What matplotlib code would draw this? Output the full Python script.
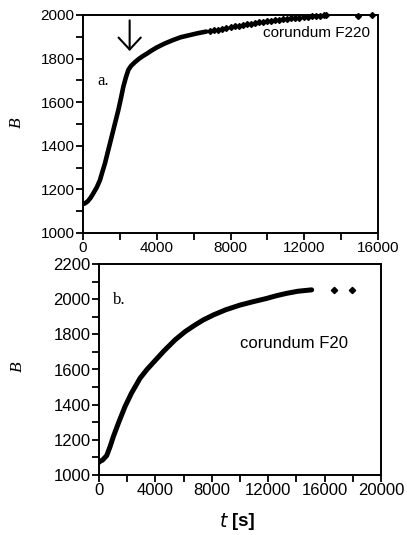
import matplotlib
matplotlib.use("Agg")
import matplotlib.pyplot as plt
from matplotlib.ticker import MultipleLocator

# panel a. corundum F220 (dense part drawn as thick trace, tail as diamonds)
t_a = [0, 50, 108, 250, 400, 560, 750, 922, 1050, 1193, 1400, 1555, 1750,
       1917, 2050, 2188, 2330, 2459, 2600, 2820, 3050, 3254, 3453, 3700,
       3977, 4400, 4882, 5300, 5800, 6200, 6690]
b_a = [1133, 1134, 1136, 1145, 1160, 1182, 1210, 1243, 1280, 1320, 1390,
       1442, 1508, 1564, 1615, 1671, 1715, 1748, 1766, 1784, 1800, 1812,
       1822, 1836, 1850, 1868, 1885, 1898, 1908, 1916, 1924]
t_a_tail = [6900, 7120, 7340, 7560, 7780, 8000, 8220, 8440, 8660, 8880, 9100,
            9320, 9540, 9760, 9980, 10200, 10420, 10640, 10860, 11080, 11300,
            11520, 11740, 11960, 12180, 12400, 12620, 12840, 13060, 13200,
            14900, 15700]
b_a_tail = [1925, 1929, 1933, 1937, 1941, 1945, 1948, 1951, 1954, 1957, 1960,
            1963, 1966, 1968, 1971, 1973, 1975, 1978, 1980, 1982, 1984,
            1986, 1988, 1990, 1992, 1994, 1995, 1997, 1998, 1999,
            1997, 1998]

# panel b. corundum F20
t_b = [0, 71, 250, 544, 780, 1017, 1400, 1844, 2300, 2908, 3400, 3971, 4600,
       5390, 6100, 6808, 7400, 8106, 9000, 9988, 10900, 11882, 12600, 13302,
       14100, 14959, 15083]
b_b = [1072, 1078, 1085, 1110, 1160, 1218, 1300, 1389, 1465, 1550, 1600,
       1650, 1705, 1768, 1815, 1853, 1882, 1910, 1940, 1966, 1985, 2004,
       2020, 2033, 2045, 2052, 2053]
t_b_tail = [16690, 17920]
b_b_tail = [2052, 2052]

arrow_t = 2530
arrow_b = (1988, 1822)

W, H = 407, 535
fig = plt.figure(figsize=(W / 100, H / 100), dpi=100)
ax1 = fig.add_axes([83 / W, 1 - 233 / H, 295 / W, 218 / H])
ax2 = fig.add_axes([99 / W, 1 - 475 / H, 282 / W, 211 / H])

sans = "Liberation Sans"
serif = "Liberation Serif"

for ax, fs in ((ax1, 11), (ax2, 12)):
    for s in ax.spines.values():
        s.set_linewidth(1.4)
    ax.tick_params(which="both", direction="out", length=5, width=1.3,
                   labelsize=fs, pad=1)
    ax.tick_params(which="both", top=False, right=False)

ax1.plot(t_a, b_a, color="black", lw=3.3, solid_capstyle="round")
ax1.plot(t_a_tail, b_a_tail, "D", color="black", ms=3.0, clip_on=False)
ax1.set_xlim(0, 16000)
ax1.set_ylim(1000, 2000)
ax1.xaxis.set_major_locator(MultipleLocator(4000))
ax1.xaxis.set_minor_locator(MultipleLocator(2000))
ax1.yaxis.set_major_locator(MultipleLocator(200))
ax1.yaxis.set_minor_locator(MultipleLocator(100))
ax1.annotate("", xy=(arrow_t, arrow_b[1]), xytext=(arrow_t, arrow_b[0]),
             arrowprops=dict(arrowstyle="->,head_length=0.43,head_width=0.4",
                             lw=1.5, mutation_scale=20, color="black"))
ax1.text(780, 1680, "a.", family=serif, fontsize=12)
ax1.text(9750, 1900, "corundum F220", family=sans, fontsize=11)

ax2.plot(t_b, b_b, color="black", lw=3.6, solid_capstyle="round")
ax2.plot(t_b_tail, b_b_tail, "D", color="black", ms=3.2)
ax2.set_xlim(0, 20000)
ax2.set_ylim(1000, 2200)
ax2.xaxis.set_major_locator(MultipleLocator(4000))
ax2.xaxis.set_minor_locator(MultipleLocator(2000))
ax2.yaxis.set_major_locator(MultipleLocator(200))
ax2.yaxis.set_minor_locator(MultipleLocator(100))
ax2.text(1000, 1975, "b.", family=serif, fontsize=12)
ax2.text(10000, 1720, "corundum F20", family=sans, fontsize=12)

# axis labels placed in figure pixels
fig.text(17 / W, 1 - 123 / H, "B", family=serif, style="italic",
         fontsize=12.5, rotation=90, ha="center", va="center")
fig.text(18 / W, 1 - 367 / H, "B", family=serif, style="italic",
         fontsize=12.5, rotation=90, ha="center", va="center")
fig.text(229 / W, 1 - 522 / H, "$t$", family=serif, style="italic",
         fontsize=13.5, ha="right", va="center")
fig.text(232 / W, 1 - 522 / H, "[s]", family=sans, weight="bold",
         fontsize=13.5, ha="left", va="center")

for ax in (ax1, ax2):
    for lab in ax.get_xticklabels() + ax.get_yticklabels():
        lab.set_family(sans)

fig.savefig("out.png", dpi=100)
